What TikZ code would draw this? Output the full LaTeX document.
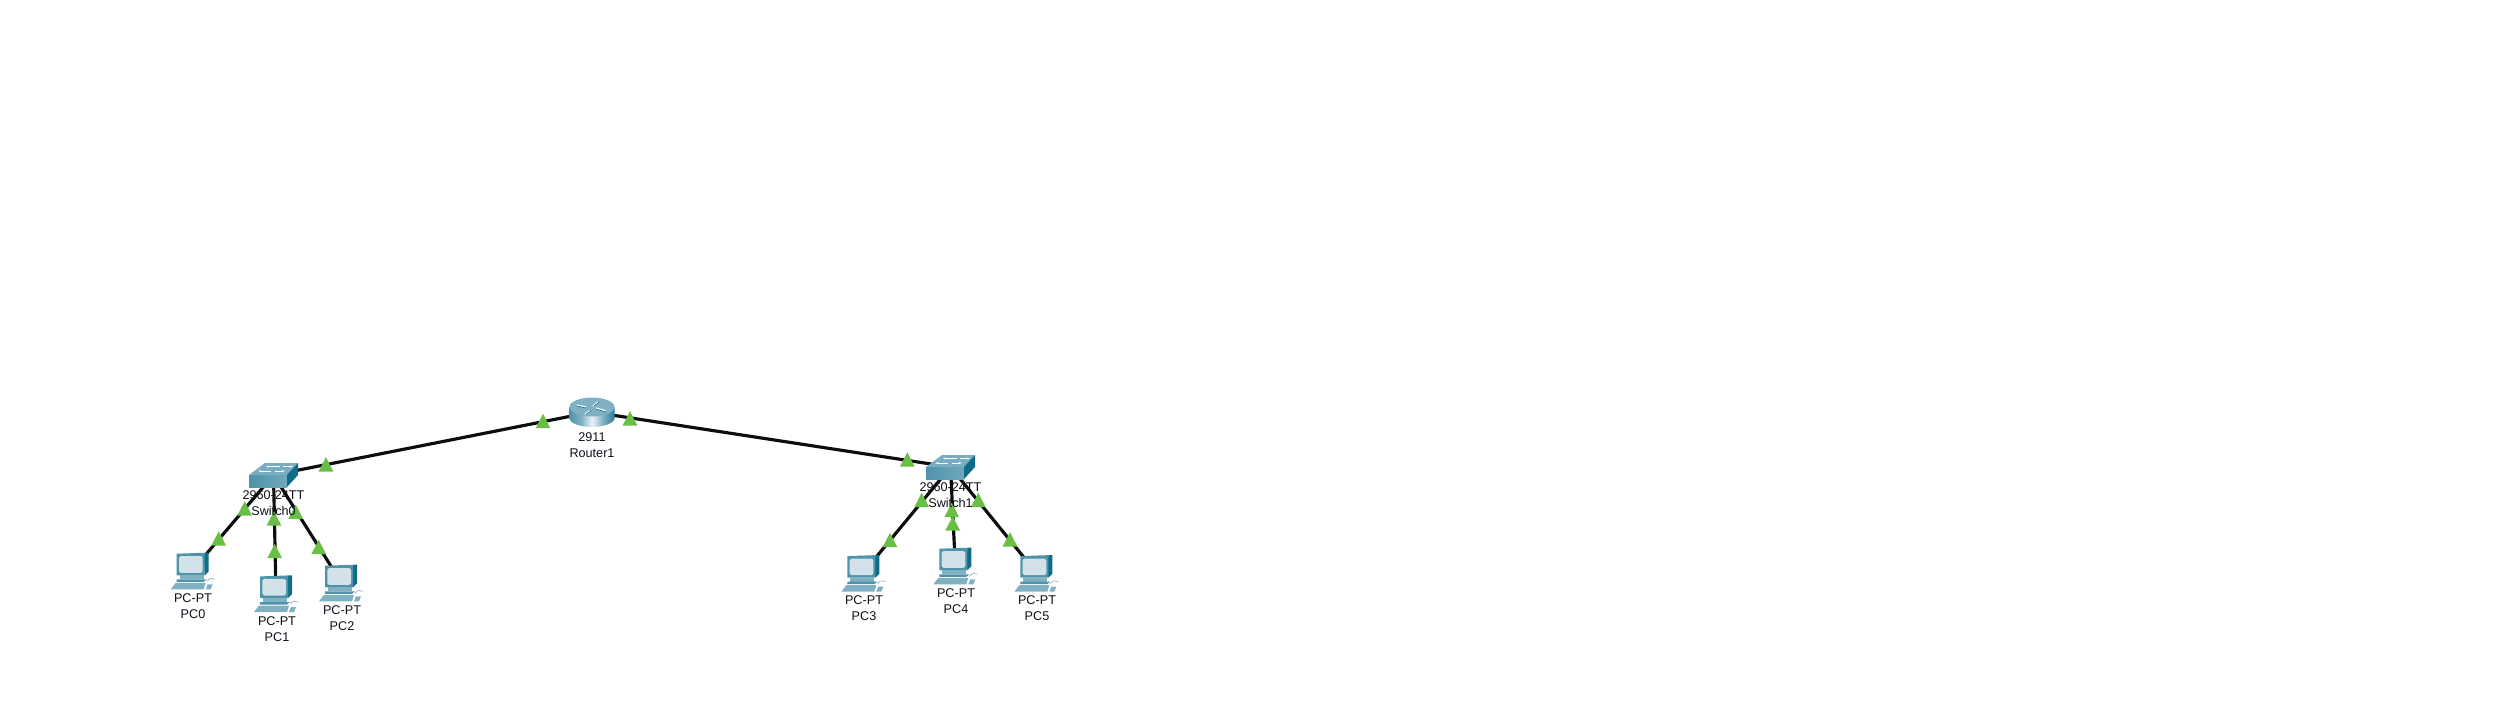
\documentclass[tikz,border=0pt]{standalone}
\usepackage{fontspec}
\setmainfont{Liberation Sans}
\definecolor{linkgreen}{HTML}{6ABD45}
\definecolor{wire}{HTML}{0D0D0D}
\definecolor{tealdark}{HTML}{0F6C88}
\definecolor{tealmid}{HTML}{4F93AB}
\definecolor{teallight}{HTML}{7FB1C3}
\definecolor{screenblue}{HTML}{D3E2E9}
\definecolor{labeltext}{HTML}{10101A}
\pgfdeclarehorizontalshading{routerbody}{100bp}{
  color(0bp)=(tealmid); color(25bp)=(tealmid); color(38bp)=(teallight); color(50bp)=(white!85!teallight);
  color(62bp)=(teallight); color(75bp)=(tealdark!60!tealmid); color(100bp)=(tealdark)}
\tikzset{
  devicenode/.style={inner sep=0pt,minimum size=0pt},
  wirelink/.style={draw=wire,line width=1.8pt},
  devlabel/.style={inner sep=0pt,text=labeltext,align=center,font=\fontsize{7.2pt}{9.07pt}\selectfont},
  lightpic/.pic={\fill[linkgreen] (-7.3,13.8) -- (0,-0.5) -- (7.3,13.8) -- cycle;},
  pcpic/.pic={
    % monitor, origin = top-left corner of the monitor
    \fill[tealdark] (27,1) -- (29,-0.6) -- (32,-0.6) -- (32,18) -- (28,22) -- cycle;
    \fill[tealmid] (0,0.4) -- (29,-0.6) -- (28,1.5) -- (28,22) -- (0,22) -- cycle;
    \fill[screenblue,rounded corners=1pt] (2.3,2.8) rectangle (26,19.5);
    % stand
    \fill[teallight] (3,22) rectangle (27,26);
    \fill[tealmid] (0,26) -- (30,26) -- (27,28.5) -- (0,28.5) -- cycle;
    % keyboard
    \fill[teallight] (-1,29.5) -- (29,29.5) -- (27,36) -- (-6,36) -- cycle;
    % mouse
    \draw[teallight,line width=0.35pt] (30,28) .. controls (33,24) and (36,25) .. (38,26);
    \fill[teallight] (31,31) -- (36,31) -- (34,36) -- (29,36) -- cycle;
  },
  switchpic/.pic={
    % origin = top-left of the bounding box
    \shade[left color=tealmid,right color=teallight!70!tealmid] (0,12) rectangle (38,24);
    \fill[teallight!85!tealmid] (0,12) -- (16,0) -- (49,0) -- (38,12) -- cycle;
    \fill[tealdark] (38,12) -- (49,0) -- (49,12) -- (38,24) -- cycle;
    \draw[white,line width=0.45pt] (20,3.5) -- (31,3.5) (34,3.5) -- (41,3.5)
      (12,8) -- (22,8) (26,8) -- (33,8);
    \fill[white] (20,2.5) -- (17,3.5) -- (20,4.5) -- cycle
      (41,2.5) -- (44,3.5) -- (41,4.5) -- cycle
      (12,7) -- (9,8) -- (12,9) -- cycle
      (33,7) -- (36,8) -- (33,9) -- cycle;
  },
  routerpic/.pic={
    % origin = centre of the router
    \shade[shading=routerbody] (-22.5,-5) -- (-22.5,6) arc[start angle=180,end angle=0,x radius=22.5,y radius=9] -- (22.5,-5) -- cycle;
    \fill[teallight] (0,-5) ellipse[x radius=22.5,y radius=9.5];
    \draw[white,line width=0.8pt] (-15,-7) -- (-6,-5) (6,-10) -- (1,-6) (14,-1) -- (4,-4) (-2,-1) -- (-7,2);
    \draw[tealdark,line width=0.35pt] (-15,-6) -- (-6,-4) (7,-10) -- (2,-6) (14,0) -- (4,-3) (-1,-1) -- (-6,2);
  }
}
\begin{document}
\begin{tikzpicture}[x=0.02cm,y=-0.02cm]
\useasboundingbox (0,0) rectangle (2518,708);
\fill[white] (0,0) rectangle (2518,708);
% named devices
\node[devicenode] (r1) at (592,412) {};
\node[devicenode] (s0) at (273.5,475) {};
\node[devicenode] (s1) at (950.5,467) {};
\node[devicenode] (p0) at (192.7,570) {};
\node[devicenode] (p1) at (276,593) {};
\node[devicenode] (p2) at (341,582) {};
\node[devicenode] (p3) at (863.3,572.7) {};
\node[devicenode] (p4) at (955.3,565.3) {};
\node[devicenode] (p5) at (1036.3,572.7) {};
% connectors
\draw[wirelink] (s0.center) -- (r1.center);
\draw[wirelink] (r1.center) -- (s1.center);
\draw[wirelink] (s0.center) -- (p0.center);
\draw[wirelink] (s0.center) -- (p1.center);
\draw[wirelink] (s0.center) -- (p2.center);
\draw[wirelink] (s1.center) -- (p3.center);
\draw[wirelink] (s1.center) -- (p4.center);
\draw[wirelink] (s1.center) -- (p5.center);
% link lights
\foreach \lx/\ly in {326/457.7,543/414.3,630/411.7,907.3/452.7,
  244.7/501.7,218.7/531.7,274/511.7,274.7/544.3,295.7/505,318.7/540.3,
  921.7/493.3,890/533.3,951.7/503.3,952.7/516.7,978.3/493.3,1010/532.7}
  \pic at (\lx,\ly) {lightpic};
% devices
\pic at (r1) {routerpic};
\pic at (249,463) {switchpic};
\pic at (926,455) {switchpic};
\pic at (176.7,553.3) {pcpic};
\pic at (260,576) {pcpic};
\pic at (325,565.3) {pcpic};
\pic at (847.3,555.7) {pcpic};
\pic at (939.3,548.3) {pcpic};
\pic at (1020.3,555.7) {pcpic};
% labels
\node[devlabel] (lr1) at (592,445) {2911\\Router1};
\node[devlabel] (ls0) at (273.5,503) {2960-24TT\\Switch0};
\node[devlabel] (ls1) at (950.5,495) {2960-24TT\\Switch1};
\node[devlabel] (lp0) at (193,606) {PC-PT\\PC0};
\node[devlabel] (lp1) at (277,629) {PC-PT\\PC1};
\node[devlabel] (lp2) at (342,618) {PC-PT\\PC2};
\node[devlabel] (lp3) at (864,608) {PC-PT\\PC3};
\node[devlabel] (lp4) at (956,601) {PC-PT\\PC4};
\node[devlabel] (lp5) at (1037,608) {PC-PT\\PC5};
\end{tikzpicture}
\end{document}
